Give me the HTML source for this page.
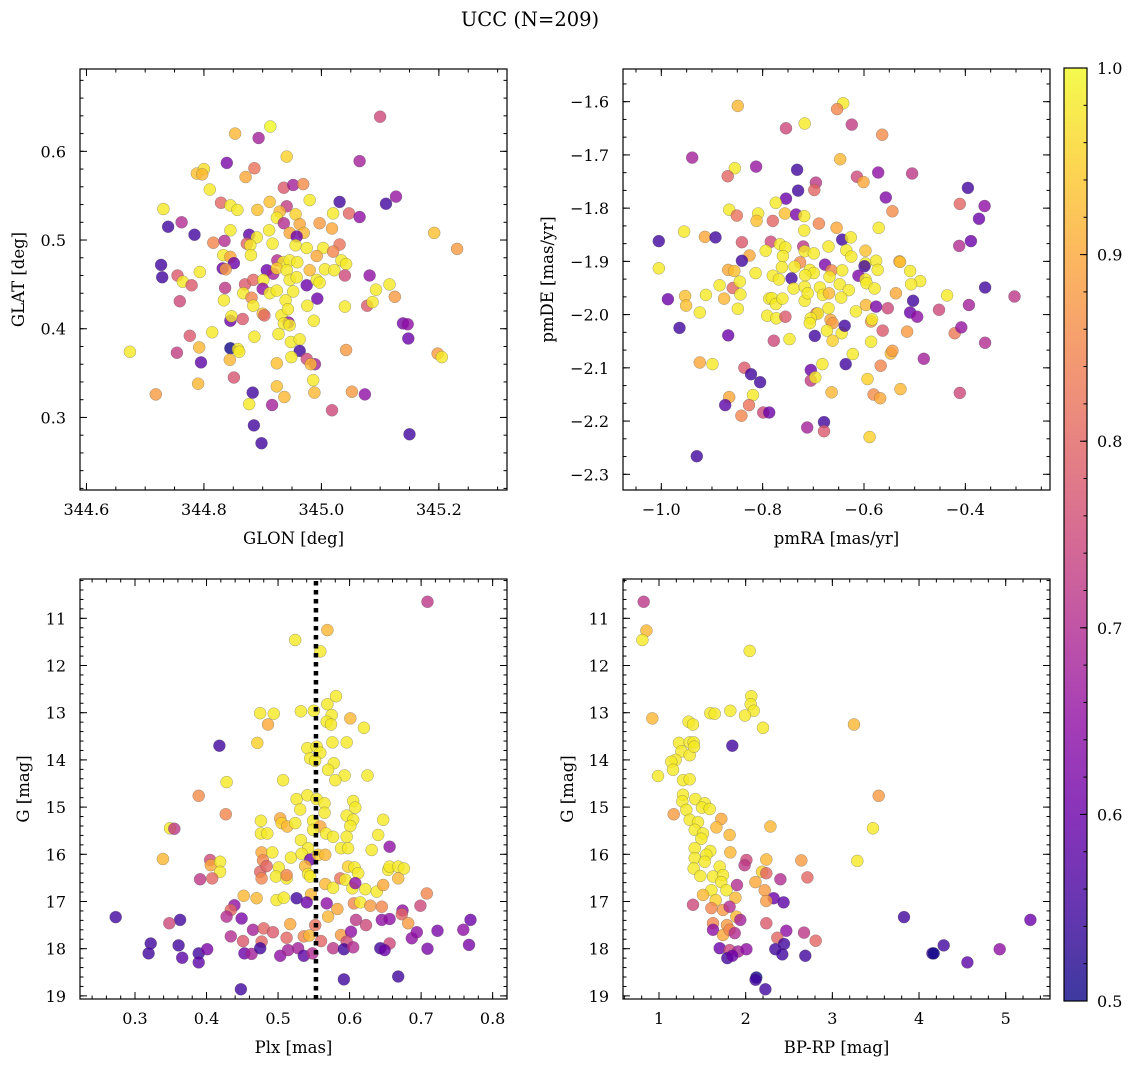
<!DOCTYPE html>
<html><head><meta charset="utf-8"><title>UCC (N=209)</title>
<style>
html,body{margin:0;padding:0;background:#fff;}
svg{display:block;font-family:"DejaVu Serif","Liberation Serif",serif;}
</style></head>
<body>
<svg id="fig" width="1136" height="1068" viewBox="0 0 1136 1068" xmlns="http://www.w3.org/2000/svg">
<text x="530" y="26" text-anchor="middle" font-size="19.5" fill="#000">UCC (N=209)</text>
</svg>
<script>
// ---- Panel A: GLON / GLAT ----
const glon=[345.100,344.913,344.853,344.893,344.941,345.065,344.839,344.788,344.800,344.797,344.886,344.871,344.810,344.936,344.952,344.969,345.127,345.110,345.031,344.980,344.731,344.829,344.845,344.857,344.891,344.912,344.941,344.929,344.956,344.924,345.020,345.047,345.065,344.762,344.739,344.784,344.845,344.877,344.890,344.873,344.879,344.917,344.911,344.936,344.963,344.997,345.018,344.946,344.970,344.958,344.816,344.835,344.956,344.975,345.003,345.031,345.192,345.231,344.880,344.833,344.845,344.851,344.832,344.837,344.907,344.925,344.935,344.946,344.959,344.992,345.020,345.034,345.042,344.727,344.729,344.793,344.755,344.764,344.779,344.836,344.870,344.884,344.901,344.900,344.918,344.924,344.941,344.946,344.958,344.980,344.975,344.992,344.997,345.006,345.022,345.040,345.082,345.116,345.093,345.125,344.759,344.834,344.867,344.881,344.884,344.912,344.924,344.952,344.993,344.939,344.976,345.040,345.078,345.087,344.900,344.903,344.932,344.943,344.845,344.847,344.866,344.944,344.936,344.946,344.987,345.139,345.147,345.148,344.776,344.814,344.886,344.927,344.948,344.963,344.674,344.754,344.792,344.795,344.845,344.858,344.860,344.844,345.042,344.963,344.975,344.989,344.982,344.924,344.949,345.198,345.205,344.851,344.790,344.986,344.988,344.718,344.883,344.924,344.937,345.052,345.074,344.877,344.916,345.018,344.885,344.898,345.150];
const glat=[.639,.628,.620,.615,.594,.589,.587,.575,.580,.574,.581,.571,.557,.559,.562,.563,.549,.541,.543,.545,.535,.542,.539,.534,.534,.543,.538,.532,.529,.525,.530,.530,.526,.520,.515,.506,.511,.506,.503,.496,.494,.496,.511,.519,.518,.519,.513,.508,.508,.504,.497,.499,.494,.491,.491,.495,.508,.490,.483,.483,.481,.474,.468,.467,.466,.477,.475,.477,.475,.482,.487,.477,.473,.472,.458,.464,.460,.453,.449,.446,.450,.455,.455,.445,.462,.468,.466,.455,.458,.466,.449,.455,.452,.467,.466,.460,.460,.450,.444,.436,.431,.432,.440,.435,.426,.440,.443,.442,.434,.432,.426,.425,.426,.430,.417,.415,.415,.422,.409,.414,.411,.407,.406,.404,.409,.406,.405,.389,.392,.396,.391,.394,.385,.388,.374,.373,.379,.362,.378,.377,.374,.365,.376,.375,.366,.360,.360,.361,.368,.372,.368,.345,.338,.342,.328,.326,.328,.335,.323,.329,.326,.315,.314,.308,.291,.271,.281];
const probA=[.75,1,.92,.68,.95,.68,.62,.93,.97,.92,.82,.9,.98,.78,.68,.86,.66,.55,.55,.98,.98,.8,.98,.98,.93,.93,.73,.92,.95,.98,.98,.8,.65,.7,.55,.55,.98,.58,.98,.8,.98,.98,.98,.7,.9,.88,.9,.9,.92,.6,.85,.7,.98,.98,.98,.82,.93,.88,.98,.98,.9,.6,.6,.88,.6,.7,.98,.98,.98,.9,.85,.98,.98,.55,.55,.98,.78,.98,.78,.72,.78,.8,.98,.65,.68,.95,.98,.98,.98,.92,.6,.98,.98,.98,.98,.75,.65,.98,.98,.88,.75,.98,.98,.85,.98,.98,.98,.98,.6,.98,.98,.98,.78,.98,.92,.8,.98,.98,.6,.98,.78,.65,.98,.98,.98,.62,.65,.6,.78,.98,.98,.98,.98,.98,.98,.73,.92,.58,.5,.98,.98,.92,.88,.55,.75,.68,.92,.93,.98,.88,.98,.77,.92,.98,.92,.88,.55,.93,.92,.88,.65,.98,.68,.75,.55,.55,.55];

// ---- Panel B: pmRA / pmDE ----
const pmra=[-0.849,-0.641,-0.653,-0.717,-0.754,-0.624,-0.564,-0.939,-0.647,-0.855,-0.869,-0.813,-0.732,-0.695,-0.698,-0.730,-0.614,-0.601,-0.572,-0.505,-0.395,-0.754,-0.557,-0.774,-0.866,-0.851,-0.809,-0.812,-0.756,-0.734,-0.718,-0.780,-0.689,-0.654,-0.643,-0.626,-0.571,-0.544,-0.411,-0.362,-0.373,-0.389,-0.412,-0.955,-0.914,-0.893,-1.005,-0.841,-0.784,-0.766,-0.755,-0.720,-0.718,-0.717,-0.699,-0.670,-0.635,-0.625,-0.597,-0.826,-0.794,-0.760,-0.841,-0.726,-0.737,-0.677,-0.664,-0.707,-0.699,-0.643,-0.597,-0.599,-0.576,-0.573,-0.530,-0.529,-0.509,-0.489,-1.005,-0.868,-0.856,-0.814,-0.762,-0.780,-0.768,-0.743,-0.716,-0.668,-0.611,-0.597,-0.885,-0.859,-0.845,-0.844,-0.739,-0.717,-0.687,-0.648,-0.630,-0.595,-0.579,-0.537,-0.507,-0.987,-0.953,-0.951,-0.912,-0.876,-0.849,-0.787,-0.782,-0.774,-0.761,-0.717,-0.711,-0.681,-0.669,-0.645,-0.924,-0.791,-0.773,-0.755,-0.694,-0.691,-0.670,-0.616,-0.596,-0.576,-0.553,-0.503,-0.361,-0.303,-0.436,-0.452,-0.393,-0.509,-0.495,-0.964,-0.868,-0.778,-0.747,-0.705,-0.707,-0.666,-0.662,-0.697,-0.673,-0.662,-0.644,-0.638,-0.586,-0.584,-0.586,-0.563,-0.515,-0.421,-0.408,-0.361,-0.924,-0.899,-0.836,-0.823,-0.805,-0.705,-0.705,-0.696,-0.682,-0.636,-0.622,-0.567,-0.547,-0.544,-0.482,-0.593,-0.528,-0.664,-0.581,-0.568,-0.411,-0.866,-0.819,-0.874,-0.827,-0.842,-0.799,-0.787,-0.712,-0.679,-0.679,-0.589,-0.930];
const pmde=[-1.608,-1.603,-1.614,-1.641,-1.650,-1.643,-1.662,-1.705,-1.708,-1.725,-1.740,-1.722,-1.728,-1.752,-1.766,-1.767,-1.741,-1.751,-1.733,-1.735,-1.762,-1.782,-1.780,-1.790,-1.803,-1.814,-1.810,-1.824,-1.810,-1.812,-1.815,-1.824,-1.829,-1.837,-1.859,-1.855,-1.837,-1.806,-1.792,-1.796,-1.820,-1.862,-1.871,-1.844,-1.854,-1.855,-1.862,-1.864,-1.863,-1.868,-1.874,-1.872,-1.842,-1.881,-1.885,-1.872,-1.879,-1.891,-1.880,-1.889,-1.880,-1.890,-1.899,-1.902,-1.910,-1.906,-1.917,-1.916,-1.922,-1.917,-1.904,-1.909,-1.899,-1.916,-1.900,-1.901,-1.918,-1.937,-1.913,-1.916,-1.918,-1.922,-1.911,-1.927,-1.934,-1.932,-1.926,-1.929,-1.927,-1.934,-1.945,-1.950,-1.938,-1.962,-1.951,-1.948,-1.949,-1.943,-1.954,-1.941,-1.951,-1.960,-1.943,-1.971,-1.965,-1.983,-1.963,-1.970,-1.989,-1.970,-1.969,-1.980,-1.970,-1.974,-1.960,-1.963,-1.960,-1.968,-1.996,-2.002,-2.007,-2.004,-1.998,-1.998,-1.988,-1.994,-1.982,-1.985,-1.988,-1.974,-1.949,-1.966,-1.964,-1.991,-1.982,-1.996,-2.004,-2.025,-2.039,-2.049,-2.046,-2.007,-2.016,-2.010,-2.016,-2.040,-2.030,-2.049,-2.035,-2.021,-2.013,-2.009,-2.051,-2.030,-2.032,-2.035,-2.024,-2.053,-2.090,-2.093,-2.100,-2.112,-2.127,-2.104,-2.124,-2.118,-2.093,-2.093,-2.074,-2.096,-2.073,-2.068,-2.083,-2.121,-2.140,-2.146,-2.150,-2.157,-2.147,-2.155,-2.151,-2.170,-2.170,-2.190,-2.184,-2.184,-2.212,-2.202,-2.219,-2.230,-2.266];
const probB=[.92,.98,.85,.98,.75,.73,.86,.68,.92,.98,.8,.66,.55,.72,.8,.55,.75,.9,.65,.72,.55,.6,.63,.98,.98,.82,.98,.93,.93,.62,.98,.8,.85,.9,.55,.98,.98,.86,.8,.65,.6,.6,.7,.98,.9,.55,.55,.78,.75,.98,.98,.72,.98,.98,.98,.98,.98,.98,.93,.9,.98,.98,.55,.86,.98,.62,.85,.98,.98,.98,.98,.55,.98,.98,.9,.93,.98,.98,.98,.9,.93,.98,.98,.98,.98,.55,.98,.98,.62,.98,.98,.8,.98,.98,.98,.98,.98,.98,.98,.98,.98,.9,.98,.6,.93,.93,.98,.92,.98,.98,.98,.98,.98,.98,.98,.98,.92,.98,.98,.98,.98,.78,.8,.98,.98,.98,.92,.62,.75,.55,.55,.72,.98,.75,.68,.6,.65,.55,.6,.75,.98,.98,.98,.9,.88,.55,.98,.95,.98,.55,.88,.98,.98,.78,.88,.83,.66,.7,.9,.98,.78,.55,.55,.6,.73,.98,.98,.55,.98,.85,.92,.88,.68,.95,.92,.92,.86,.9,.75,.9,.98,.58,.82,.85,.75,.6,.68,.55,.78,.95,.55];

// ---- Panel C: Plx / G ----
const plx=[0.709,0.569,0.524,0.559,0.581,0.569,0.532,0.550,0.575,0.568,0.574,0.601,0.620,0.475,0.494,0.486,0.471,0.418,0.541,0.554,0.559,0.545,0.576,0.596,0.552,0.578,0.570,0.593,0.580,0.625,0.428,0.507,0.389,0.526,0.541,0.554,0.565,0.605,0.608,0.531,0.565,0.596,0.605,0.427,0.476,0.503,0.505,0.513,0.524,0.549,0.559,0.601,0.647,0.349,0.355,0.476,0.485,0.549,0.567,0.577,0.596,0.640,0.532,0.542,0.588,0.598,0.631,0.656,0.339,0.405,0.406,0.419,0.419,0.477,0.492,0.479,0.518,0.533,0.545,0.556,0.566,0.391,0.408,0.475,0.484,0.477,0.501,0.497,0.512,0.512,0.538,0.542,0.545,0.566,0.577,0.587,0.594,0.598,0.607,0.612,0.604,0.608,0.622,0.638,0.647,0.654,0.656,0.668,0.676,0.668,0.708,0.452,0.470,0.498,0.508,0.546,0.526,0.540,0.568,0.606,0.615,0.629,0.645,0.699,0.439,0.434,0.428,0.449,0.273,0.363,0.348,0.517,0.552,0.570,0.583,0.609,0.623,0.645,0.656,0.674,0.673,0.682,0.769,0.465,0.480,0.493,0.434,0.451,0.477,0.512,0.536,0.544,0.560,0.588,0.602,0.596,0.656,0.687,0.694,0.723,0.759,0.767,0.322,0.319,0.361,0.366,0.389,0.389,0.401,0.453,0.463,0.475,0.503,0.514,0.528,0.536,0.548,0.577,0.592,0.605,0.643,0.649,0.709,0.592,0.668,0.448];
const gC=[10.65,11.25,11.46,11.70,12.65,12.82,12.97,12.96,13.05,13.19,13.25,13.12,13.32,13.01,13.02,13.25,13.64,13.70,13.75,13.72,13.85,13.97,13.63,13.63,14.02,14.07,14.21,14.33,14.43,14.33,14.47,14.43,14.76,14.83,14.75,14.83,14.92,14.87,15.01,15.05,15.12,15.18,15.27,15.15,15.29,15.24,15.34,15.41,15.34,15.29,15.41,15.40,15.27,15.45,15.46,15.56,15.56,15.48,15.56,15.63,15.63,15.59,15.70,15.87,15.87,15.87,15.91,15.84,16.10,16.12,16.23,16.16,16.37,15.96,15.96,16.13,16.07,15.99,16.11,16.01,16.01,16.53,16.51,16.37,16.25,16.51,16.28,16.47,16.51,16.44,16.25,16.42,16.47,16.63,16.71,16.51,16.54,16.26,16.28,16.40,16.72,16.61,16.74,16.79,16.65,16.33,16.26,16.26,16.30,16.51,16.83,16.88,16.93,16.97,16.92,16.85,16.93,17.02,17.04,17.04,17.02,17.09,17.11,17.09,17.08,17.18,17.32,17.36,17.33,17.39,17.46,17.48,17.50,17.32,17.16,17.39,17.50,17.39,17.37,17.19,17.27,17.46,17.39,17.60,17.57,17.65,17.74,17.84,17.85,17.77,17.74,17.72,17.84,17.71,17.64,17.85,17.89,17.78,17.65,17.62,17.60,17.92,17.89,18.10,17.93,18.19,18.10,18.29,18.01,18.10,18.11,17.99,18.15,18.03,17.99,18.15,18.10,17.99,18.01,17.97,17.99,18.03,18.00,18.65,18.59,18.86];
const probC=[.72,.92,.98,.98,.98,.98,.98,.98,.98,.98,.98,.92,.98,.98,.98,.9,.95,.55,.98,.98,.98,.98,.98,.98,.98,.98,.98,.98,.98,.98,.98,.98,.86,.98,.98,.98,.98,.98,.98,.98,.98,.98,.98,.85,.98,.9,.95,.92,.98,.98,.9,.98,.98,.98,.72,.98,.98,.98,.98,.98,.98,.98,.98,.98,.98,.98,.98,.65,.92,.75,.9,.98,.98,.9,.98,.85,.98,.98,.6,.95,.92,.72,.8,.8,.8,.85,.98,.98,.98,.85,.92,.98,.98,.92,.98,.82,.98,.95,.98,.98,.98,.65,.98,.98,.9,.98,.98,.98,.98,.92,.85,.92,.92,.98,.98,.92,.55,.6,.65,.85,.98,.88,.85,.75,.65,.8,.7,.62,.55,.55,.75,.9,.82,.92,.9,.72,.75,.65,.65,.65,.8,.88,.6,.68,.8,.78,.7,.78,.8,.8,.85,.92,.8,.88,.65,.75,.75,.65,.65,.62,.65,.62,.55,.55,.55,.58,.55,.58,.62,.6,.68,.55,.65,.68,.68,.58,.7,.72,.55,.7,.55,.6,.62,.55,.55,.55];
const plxMean=[0.553];

// ---- Panel D: BP-RP / G ----
const bprp=[0.823,0.854,0.808,2.046,2.065,2.058,2.092,1.992,2.200,1.592,1.642,1.823,0.923,1.342,1.392,3.250,1.231,1.354,1.400,1.258,1.354,1.404,1.846,1.192,1.142,1.162,0.988,1.277,1.354,1.277,1.269,1.419,1.527,1.496,1.585,1.315,1.169,3.535,1.354,1.450,1.719,1.662,2.285,3.469,1.412,1.508,1.488,1.815,1.412,1.592,1.546,1.823,1.412,1.527,1.700,1.400,1.477,1.623,1.738,2.008,1.988,2.238,2.642,3.288,2.188,2.238,2.400,2.712,1.900,1.719,1.777,1.604,1.508,1.654,1.881,2.112,2.219,2.323,2.438,2.238,1.392,1.604,1.738,1.815,1.892,1.938,1.623,1.785,1.623,1.738,1.815,1.873,2.238,2.469,2.673,2.808,2.365,2.442,1.700,1.815,1.912,2.008,2.342,2.423,2.688,1.788,1.846,2.123,2.115,2.227,3.827,5.285,4.285,4.154,4.169,4.558,4.931];
const gD=[10.65,11.26,11.46,11.69,12.65,12.82,12.96,13.06,13.32,13.01,13.02,12.96,13.12,13.19,13.25,13.25,13.64,13.63,13.63,13.82,13.90,13.72,13.70,14.00,14.04,14.21,14.34,14.43,14.41,14.74,14.88,14.83,14.92,15.01,15.04,15.06,15.15,14.76,15.27,15.32,15.25,15.43,15.41,15.45,15.48,15.56,15.67,15.59,15.87,15.93,16.01,15.96,16.08,16.16,16.26,16.30,16.46,16.47,16.44,16.12,16.23,16.11,16.13,16.14,16.37,16.40,16.53,16.49,16.65,16.59,16.76,16.76,16.86,16.97,16.92,16.59,16.76,16.93,17.02,16.99,17.07,17.14,17.18,17.11,17.32,17.39,17.46,17.50,17.60,17.71,17.60,17.67,17.46,17.62,17.66,17.83,17.77,17.90,17.99,18.03,18.06,18.01,18.01,18.12,18.15,18.20,18.15,18.61,18.66,18.86,17.33,17.39,17.93,18.10,18.10,18.29,18.01];
const probD=[.72,.92,.98,.98,.98,.98,.98,.98,.98,.98,.98,.98,.92,.98,.98,.92,.98,.98,.98,.98,.98,.98,.55,.98,.98,.98,.98,.98,.98,.98,.98,.98,.98,.98,.98,.98,.88,.88,.98,.98,.9,.92,.92,.98,.98,.98,.98,.92,.98,.98,.98,.92,.98,.98,.98,.98,.98,.98,.98,.75,.72,.92,.88,.98,.95,.8,.7,.8,.7,.98,.98,.98,.92,.95,.92,.9,.88,.6,.58,.88,.75,.85,.88,.7,.92,.68,.85,.88,.65,.9,.85,.7,.78,.65,.72,.8,.8,.55,.6,.75,.68,.65,.55,.55,.55,.55,.6,.5,.55,.55,.55,.6,.55,.55,.5,.58,.65];

// ---- Colorbar ----
const cbTicks=[0.5,0.6,0.7,0.8,0.9,1.0];

const NS="http://www.w3.org/2000/svg";
const svg=document.getElementById('fig');
function mk(tag,attrs,parent){const e=document.createElementNS(NS,tag);for(const k in attrs)e.setAttribute(k,attrs[k]);(parent||svg).appendChild(e);return e;}
const plasmaStops=["#0d0887","#41049d","#6a00a8","#8f0da4","#b12a90","#cc4778","#e16462","#f2844b","#fca636","#fcce25","#f0f921"];
function hx(h){return [parseInt(h.substr(1,2),16),parseInt(h.substr(3,2),16),parseInt(h.substr(5,2),16)];}
function plasma(t){t=Math.max(0,Math.min(1,t));const f=t*10,i=Math.min(9,Math.floor(f)),u=f-i;const a=hx(plasmaStops[i]),b=hx(plasmaStops[i+1]);return 'rgb('+a.map((v,k)=>Math.round(v+(b[k]-v)*u)).join(',')+')';}
function pcol(p){return plasma((p-0.5)/0.5);}
function fmt(v,d){const s=Math.abs(v).toFixed(d);return (v<-1e-9?'\u2212':'')+s;}

const panels=[
 {name:'position',l:80,t:69,r:507,b:490,xd:[344.589,345.316],yd:[0.2182,0.6928],xmaj:[344.6,344.8,345.0,345.2],xmin:0.05,ymaj:[0.3,0.4,0.5,0.6],ymin:0.02,xdec:1,ydec:1,xl:'GLON [deg]',yl:'GLAT [deg]',xs:glon,ys:glat,ps:probA,ylx:18},
 {name:'proper-motion',l:623,t:69,r:1050,b:490,xd:[-1.0756,-0.2329],yd:[-2.3295,-1.5386],xmaj:[-1.0,-0.8,-0.6,-0.4],xmin:0.05,ymaj:[-2.3,-2.2,-2.1,-2.0,-1.9,-1.8,-1.7,-1.6],ymin:0.1/3,xdec:1,ydec:1,xl:'pmRA [mas/yr]',yl:'pmDE [mas/yr]',xs:pmra,ys:pmde,ps:probB,ylx:547},
 {name:'parallax-mag',l:80,t:579,r:507,b:999,xd:[0.2231,0.8201],yd:[19.066,10.167],inv:true,xmaj:[0.3,0.4,0.5,0.6,0.7,0.8],xmin:0.02,ymaj:[11,12,13,14,15,16,17,18,19],ymin:0.2,xdec:1,ydec:0,xl:'Plx [mas]',yl:'G [mag]',xs:plx,ys:gC,ps:probC,vline:true,ylx:23},
 {name:'cmd',l:623,t:579,r:1050,b:999,xd:[0.5846,5.511],yd:[19.066,10.167],inv:true,xmaj:[1,2,3,4,5],xmin:0.2,ymaj:[11,12,13,14,15,16,17,18,19],ymin:0.2,xdec:0,ydec:0,xl:'BP-RP [mag]',yl:'G [mag]',xs:bprp,ys:gD,ps:probD,ylx:567}
];

panels.forEach(P=>{
 const g=mk('g',{});
 
 
 const X=v=>P.l+(v-P.xd[0])/(P.xd[1]-P.xd[0])*(P.r-P.l);
 const Y=P.inv?(v=>P.t+(v-P.yd[1])/(P.yd[0]-P.yd[1])*(P.b-P.t)):(v=>P.b-(v-P.yd[0])/(P.yd[1]-P.yd[0])*(P.b-P.t));
 const clip=mk('clipPath',{id:'clip-'+P.name},g);
 mk('rect',{x:P.l,y:P.t,width:P.r-P.l,height:P.b-P.t},clip);
 const pts=mk('g',{'clip-path':'url(#clip-'+P.name+')'},g);
 
 
 for(let i=0;i<P.xs.length;i++){
  const c=mk('circle',{cx:X(P.xs[i]).toFixed(1),cy:Y(P.ys[i]).toFixed(1),r:6,fill:pcol(P.ps[i]),'fill-opacity':0.8,stroke:'#555','stroke-opacity':0.55,'stroke-width':0.5},pts);
  
  
 }
 if(P.vline){
  const ln=mk('line',{x1:X(plxMean[0]),x2:X(plxMean[0]),y1:P.t+2,y2:P.b,stroke:'#000','stroke-width':4.5,'stroke-dasharray':'4.5 4.5'},g);
  
  
 }
 const tg=mk('g',{stroke:'#000','stroke-width':1},g);
 const xs0=Math.ceil(P.xd[0]/P.xmin-1e-6),xs1=Math.floor(P.xd[1]/P.xmin+1e-6);
 for(let k=xs0;k<=xs1;k++){const x=X(k*P.xmin);mk('line',{x1:x,x2:x,y1:P.b,y2:P.b-3.5},tg);mk('line',{x1:x,x2:x,y1:P.t,y2:P.t+3.5},tg);}
 const ys0=Math.ceil(Math.min(...P.yd)/P.ymin-1e-6),ys1=Math.floor(Math.max(...P.yd)/P.ymin+1e-6);
 for(let k=ys0;k<=ys1;k++){const y=Y(k*P.ymin);mk('line',{x1:P.l,x2:P.l+3.5,y1:y,y2:y},tg);mk('line',{x1:P.r,x2:P.r-3.5,y1:y,y2:y},tg);}
 P.xmaj.forEach(v=>{const x=X(v);mk('line',{x1:x,x2:x,y1:P.b,y2:P.b-7},tg);mk('line',{x1:x,x2:x,y1:P.t,y2:P.t+7},tg);
  const t=mk('text',{x:x,y:P.b+25,'text-anchor':'middle','font-size':16,fill:'#000'},g);t.textContent=fmt(v,P.xdec);
  });
 P.ymaj.forEach(v=>{const y=Y(v);mk('line',{x1:P.l,x2:P.l+7,y1:y,y2:y},tg);mk('line',{x1:P.r,x2:P.r-7,y1:y,y2:y},tg);
  const t=mk('text',{x:P.l-14,y:y+6,'text-anchor':'end','font-size':16,fill:'#000'},g);t.textContent=fmt(v,P.ydec);
  });
 const fr=mk('rect',{x:P.l,y:P.t,width:P.r-P.l,height:P.b-P.t,fill:'none',stroke:'#000','stroke-width':1.2},g);
 
 const xl=mk('text',{x:(P.l+P.r)/2,y:P.b+54,'text-anchor':'middle','font-size':16.5,fill:'#000'},g);xl.textContent=P.xl;
 
 const yx=P.ylx+6,yc=(P.t+P.b)/2;
 const yl=mk('text',{x:yx,y:yc,'text-anchor':'middle','font-size':16.5,fill:'#000',transform:'rotate(-90 '+yx+' '+yc+')'},g);yl.textContent=P.yl;
 
});

(function(){
 const L=1064,R=1087,T=68,B=1001;
 const cb=mk('g',{});
 
 
 const defs=mk('defs',{},cb);
 const lg=mk('linearGradient',{id:'plasmaGrad',x1:0,y1:1,x2:0,y2:0},defs);
 for(let i=0;i<=20;i++){mk('stop',{offset:(i/20),'stop-color':plasma(i/20),'stop-opacity':0.8},lg);}
 mk('rect',{x:L,y:T,width:R-L,height:B-T,fill:'url(#plasmaGrad)'},cb);
 const Yc=v=>B-(v-0.5)/0.5*(B-T);
 for(let k=25;k<=50;k++){const y=Yc(k*0.02);mk('line',{x1:R,x2:R-3.5,y1:y,y2:y,stroke:'#000','stroke-width':1},cb);}
 cbTicks.forEach(v=>{const y=Yc(v);mk('line',{x1:R,x2:R-7,y1:y,y2:y,stroke:'#000','stroke-width':1},cb);
  const t=mk('text',{x:R+10,y:y+6,'font-size':16,fill:'#000'},cb);t.textContent=v.toFixed(1);
  });
 mk('rect',{x:L,y:T,width:R-L,height:B-T,fill:'none',stroke:'#000','stroke-width':1.2},cb);
})();
</script>
</body></html>
